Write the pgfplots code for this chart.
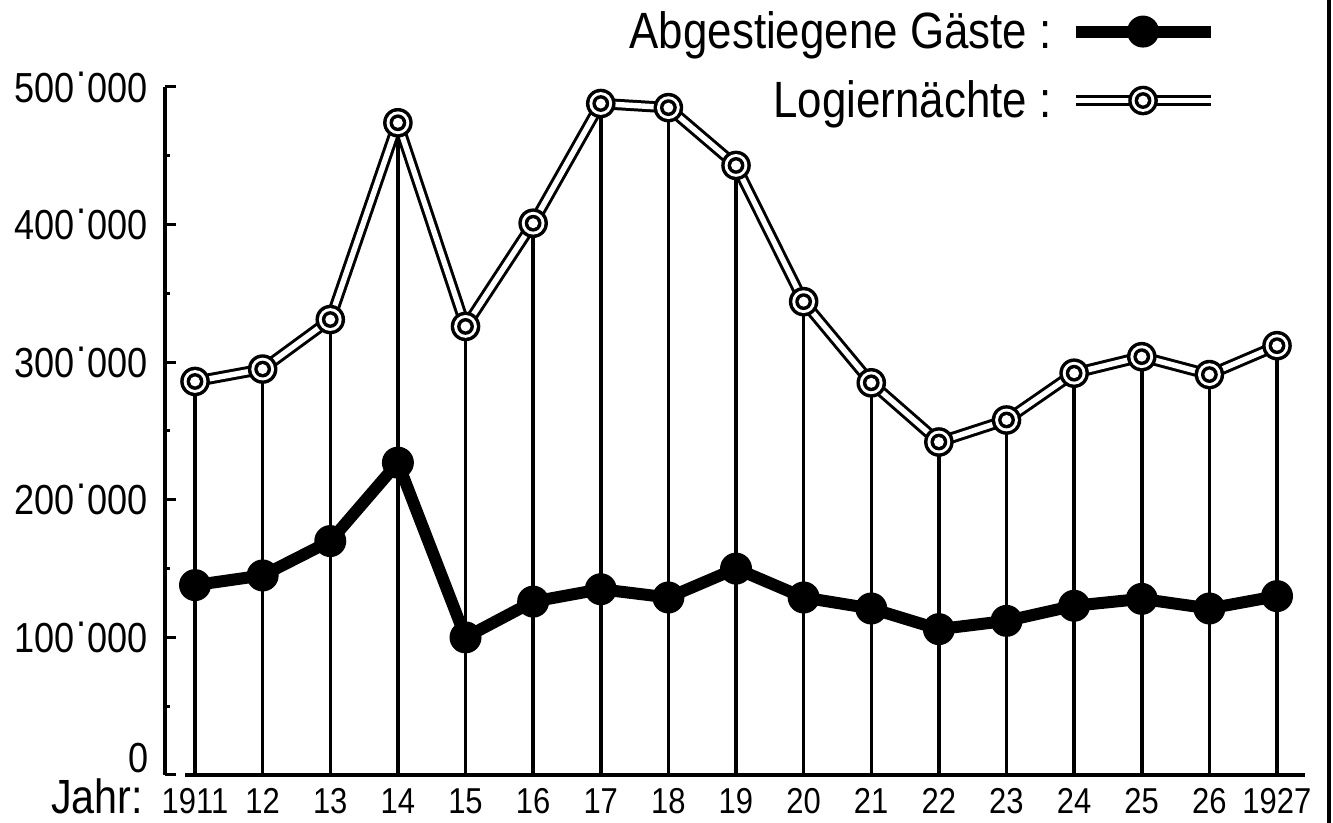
\documentclass[border=0pt]{standalone}
\usepackage{fontspec}
\setmainfont{Liberation Sans}[FakeStretch=0.86]
\usepackage{pgfplots}
\pgfplotsset{compat=1.18}
\pgfplotsset{legend image code/.code={\path[use as bounding box, draw=none, fill=none] (0pt,-2.5pt) rectangle (67.5pt,5pt); \draw[mark repeat=2,mark phase=2,#1] plot coordinates {(0pt,0pt)(33.75pt,0pt)(67.5pt,0pt)};}}
\pgfdeclareplotmark{dring}{%
  \pgfsetfillcolor{black}\pgfpathcircle{\pgfpointorigin}{7.4pt}\pgfusepathqfill
  \pgfsetfillcolor{white}\pgfpathcircle{\pgfpointorigin}{5.7pt}\pgfusepathqfill
  \pgfsetfillcolor{black}\pgfpathcircle{\pgfpointorigin}{4.2pt}\pgfusepathqfill
  \pgfsetfillcolor{white}\pgfpathcircle{\pgfpointorigin}{2.5pt}\pgfusepathqfill
}
\pgfdeclareplotmark{bdot}{%
  \pgfsetfillcolor{black}\pgfpathcircle{\pgfpointorigin}{8pt}\pgfusepathqfill
}
\newcommand\tp{\kern0.8pt\raisebox{0.62em}{.}\kern0.8pt}
\begin{document}
\begin{tikzpicture}
\useasboundingbox (-82.5pt,-24pt) rectangle (584pt,387.5pt);
\begin{axis}[
  scale only axis, width=570pt, height=344pt,
  xmin=1910.556, xmax=1927.414, ymin=0, ymax=500000,
  clip=false,
  axis y line=left, axis x line=bottom,
  axis line style={-, line width=2pt, black},
  x axis line style={draw=none},
  scaled y ticks=false,
  xtick={1911,1912,...,1927},
  xticklabels={1911,12,13,14,15,16,17,18,19,20,21,22,23,24,25,26,1927},
  xtick style={draw=none},
  xticklabel style={anchor=base, yshift=-19.5pt, font=\fontsize{18}{18}\selectfont},
  ytick={0,100000,200000,300000,400000,500000},
  yticklabels={{},100\tp000,200\tp000,300\tp000,400\tp000,500\tp000},
  minor ytick={50000,150000,250000,350000,450000},
  tick align=inside,
  major tick length=5.5pt, minor tick length=2.5pt,
  ytick style={line width=1.5pt, black},
  minor tick style={line width=1.5pt, black},
  yticklabel style={anchor=east, xshift=-5pt, font=\fontsize{21}{21}\selectfont},
  legend plot pos=right,
  legend cell align=right,
  legend style={draw=none, fill=none, at={(rel axis cs:0.9175,1.116)}, anchor=north east,
    font=\fontsize{25.5}{25.5}\selectfont, row sep=10.5pt, column sep=10pt, inner sep=0pt},
]
\addplot[ycomb, black, line width=1.75pt, forget plot] coordinates {
(1911,286000)(1912,295000)(1913,331000)(1914,474000)(1915,326000)(1916,401000)
(1917,488000)(1918,485000)(1919,443000)(1920,344000)(1921,285000)(1922,242000)
(1923,258000)(1924,292000)(1925,304000)(1926,291000)(1927,312000)};
\addplot[black, line width=6pt, line join=round, mark=bdot]
 coordinates {
(1911,138000)(1912,145000)(1913,170000)(1914,227000)(1915,100000)(1916,126000)
(1917,135000)(1918,129000)(1919,150000)(1920,129000)(1921,121000)(1922,106000)
(1923,112000)(1924,123000)(1925,128000)(1926,121000)(1927,130000)};
\addlegendentry{Abgestiegene Gäste :}
\addplot[draw=black, line width=1.5pt, double=white, double distance=2.7pt, line join=round, mark=dring]
 coordinates {
(1911,286000)(1912,295000)(1913,331000)(1914,474000)(1915,326000)(1916,401000)
(1917,488000)(1918,485000)(1919,443000)(1920,344000)(1921,285000)(1922,242000)
(1923,258000)(1924,292000)(1925,304000)(1926,291000)(1927,312000)};
\addlegendentry{Logiernächte :}
\draw[line width=2pt] (axis cs:1910.85,0) -- (axis cs:1927.414,0);
\node[anchor=base east, inner sep=0pt, font=\fontsize{21}{21}\selectfont] at ([xshift=-8pt,yshift=1pt]rel axis cs:0,0) {0};
\node[anchor=base east, font=\fontsize{24}{24}\selectfont] at ([xshift=-7.5pt,yshift=-19.5pt]rel axis cs:0,0) {Jahr:};
\end{axis}
\draw[line width=2pt] (582pt,-24pt) -- (582pt,387.5pt);
\end{tikzpicture}
\end{document}
